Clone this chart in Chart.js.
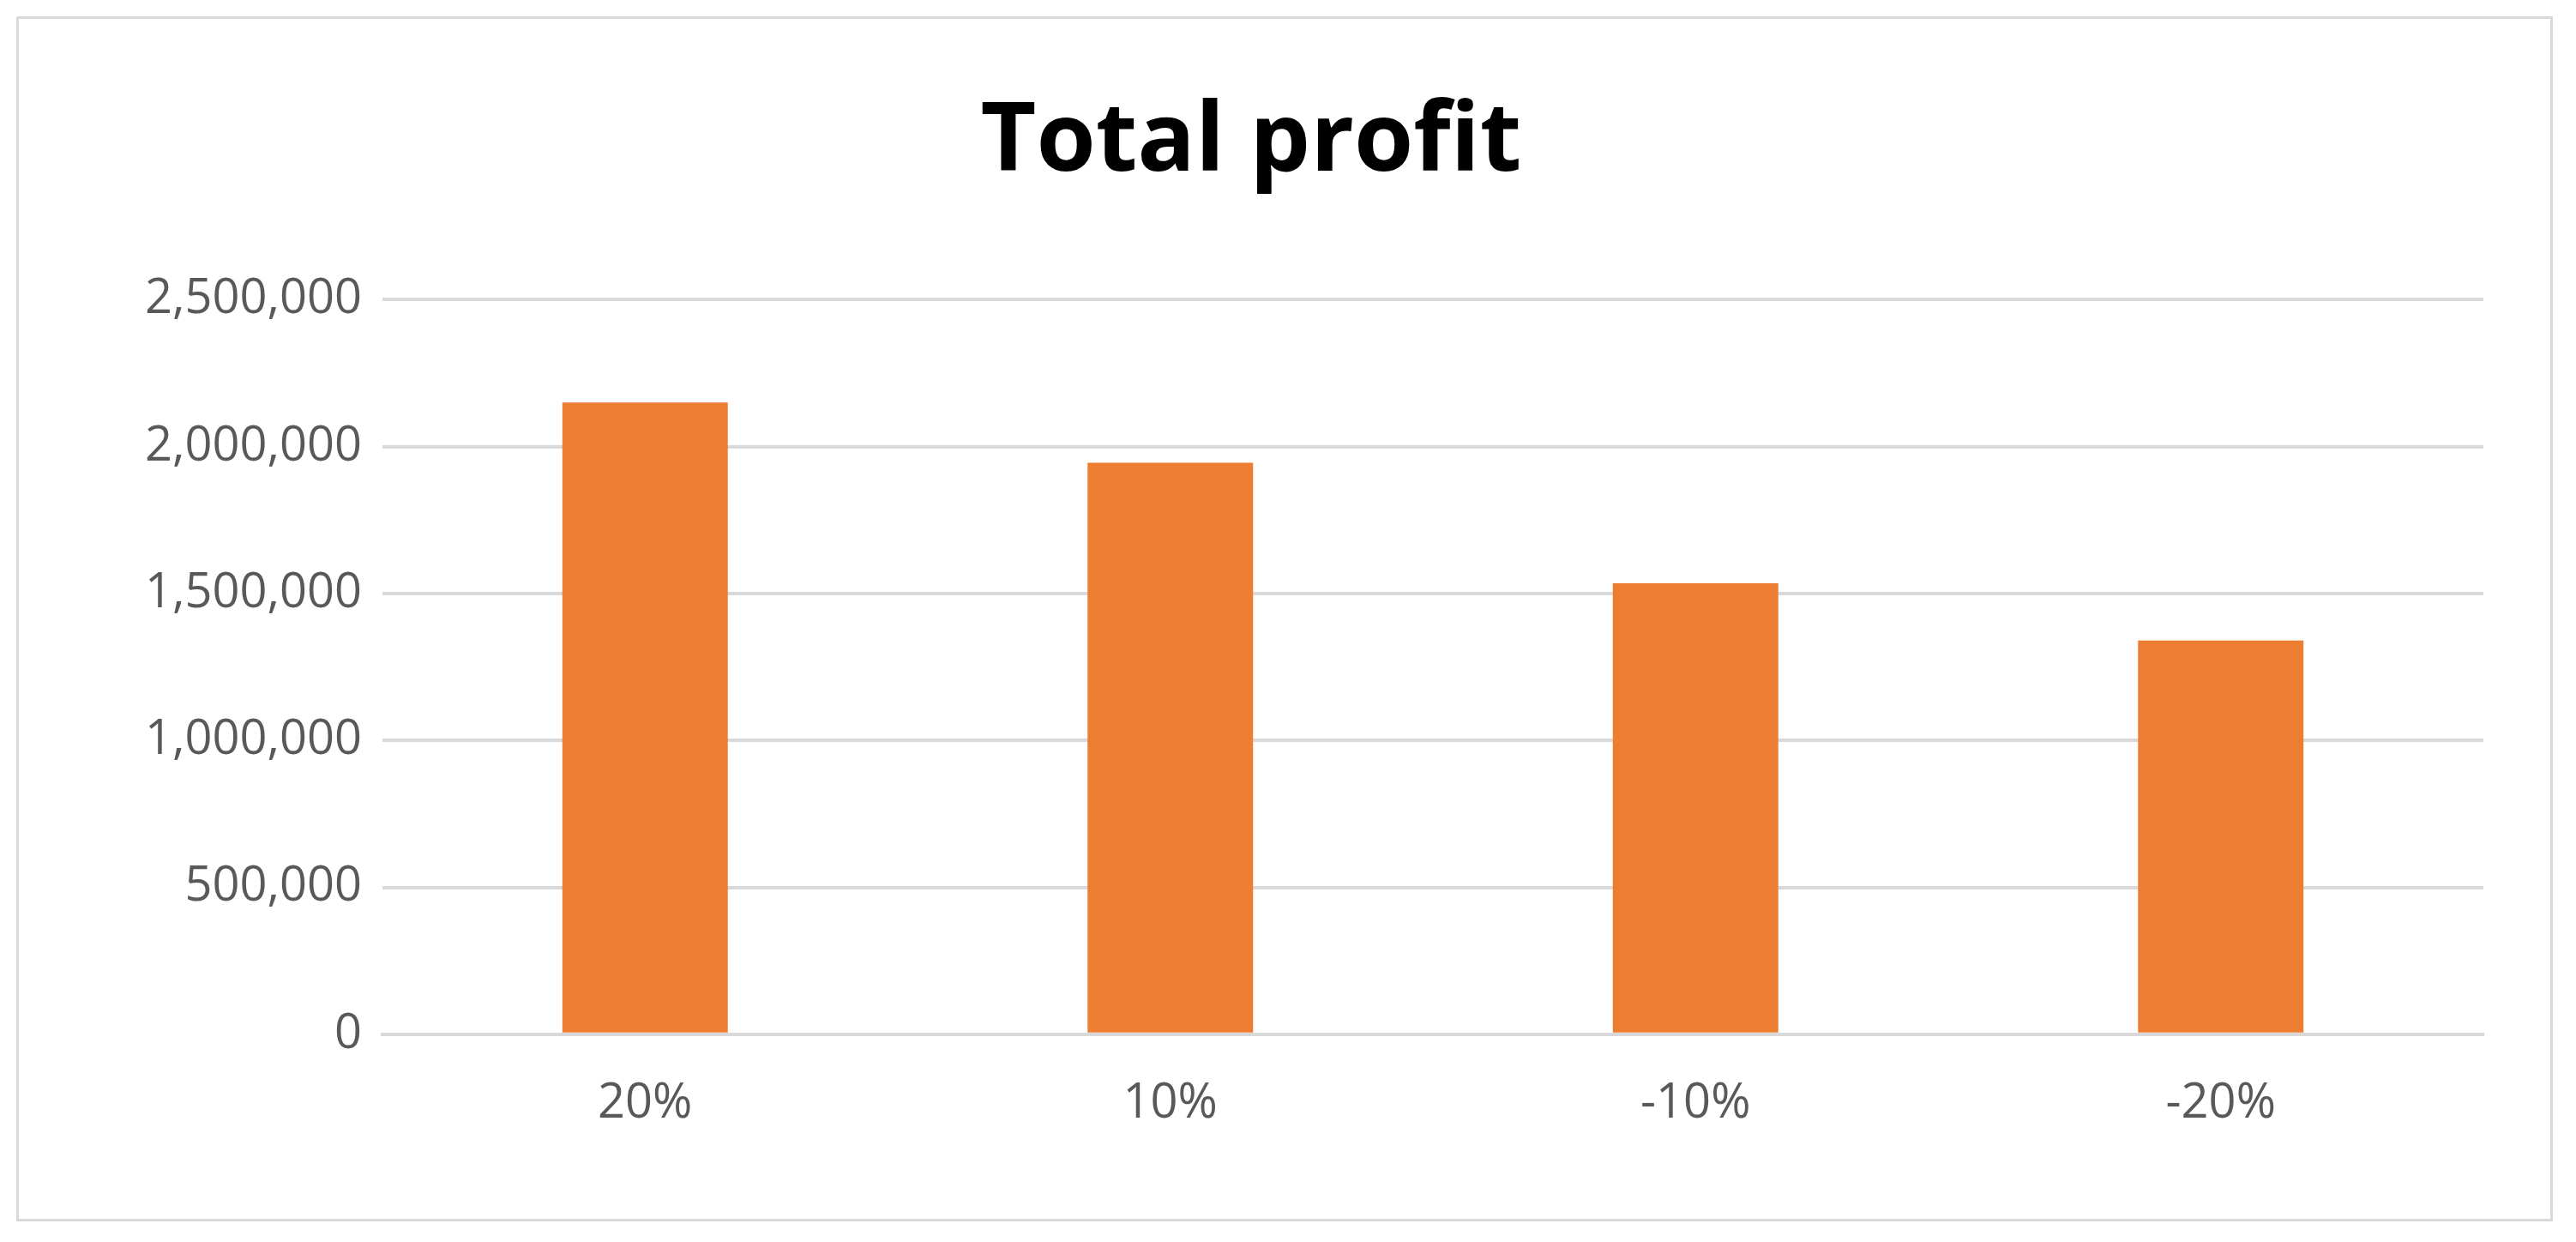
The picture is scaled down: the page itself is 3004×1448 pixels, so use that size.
<!DOCTYPE html>
<html>
<head>
<meta charset="utf-8">
<script src="https://cdn.jsdelivr.net/npm/chart.js@4"></script>
<style>
  html, body { margin: 0; padding: 0; background: #fff; }
  #wrap { position: absolute; left: 19px; top: 19px; width: 2958px; height: 1405px; border: 3px solid #d9d9d9; box-sizing: border-box; }
</style>
</head>
<body>
<div id="wrap"><canvas id="profitChart" width="2952" height="1399"></canvas></div>
<script>
// Total profit by scenario
const categories = ['20%', '10%', '-10%', '-20%'];
const profit = [2150000, 1945000, 1535000, 1340000];
const yTicks = [0, 500000, 1000000, 1500000, 2000000, 2500000];

const ctx = document.getElementById('profitChart').getContext('2d');
new Chart(ctx, {
  type: 'bar',
  data: {
    labels: categories,
    datasets: [{
      data: profit,
      backgroundColor: '#ed7d31',
      categoryPercentage: 1,
      barPercentage: 0.315
    }]
  },
  options: {
    responsive: false,
    animation: false,
    devicePixelRatio: 1,
    layout: { padding: { left: 0, right: 78, top: 0, bottom: 60 } },
    plugins: {
      legend: { display: false },
      tooltip: { enabled: false },
      title: {
        display: true,
        text: 'Total profit',
        color: '#000',
        font: { family: 'Open Sans', size: 112, weight: 'bold' },
        padding: { top: 78, bottom: 115 }
      }
    },
    scales: {
      x: {
        grid: { display: false },
        border: { color: '#d9d9d9', width: 4 },
        ticks: { color: '#595959', font: { family: 'Open Sans', size: 56 }, padding: 40 }
      },
      y: {
        min: 0,
        max: 2500000,
        afterBuildTicks: s => { s.ticks = yTicks.map(v => ({ value: v })); },
        afterFit: s => { s.width = 424; },
        grid: { color: '#d9d9d9', lineWidth: 4, drawTicks: false },
        border: { display: false },
        ticks: {
          color: '#595959',
          font: { family: 'Open Sans', size: 56 },
          padding: 24,
          callback: v => v.toLocaleString('en-US')
        }
      }
    }
  }
});
</script>
</body>
</html>
